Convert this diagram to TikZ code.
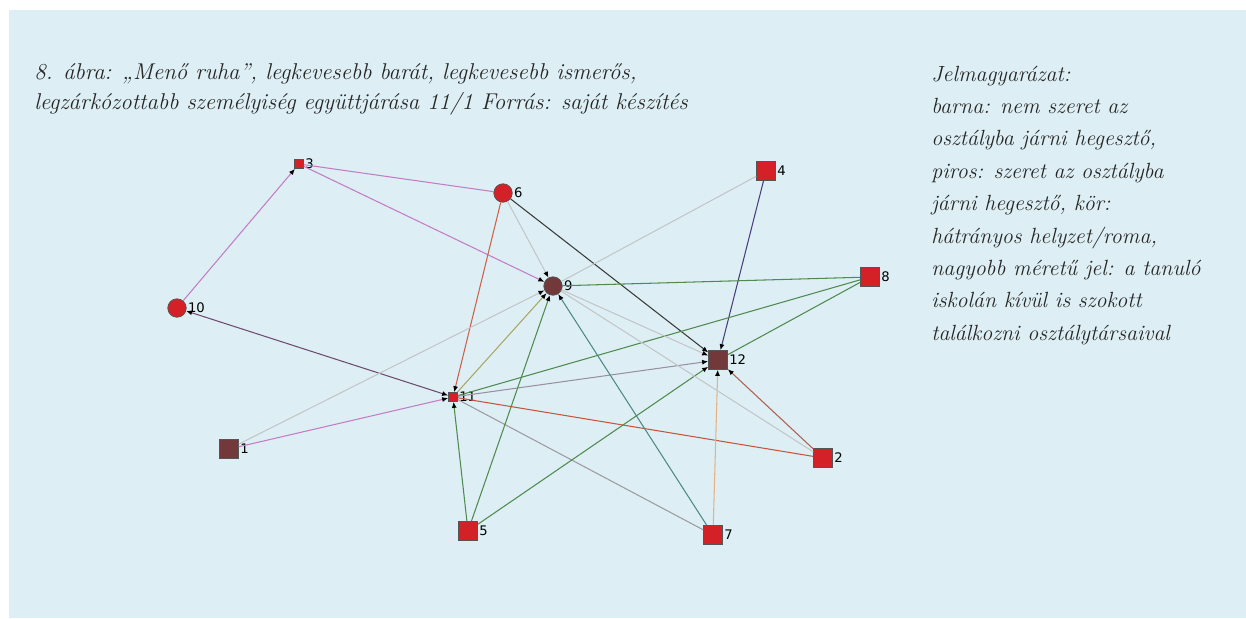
\documentclass[tikz,border=0pt]{standalone}
\usepackage{fontspec}
\newfontfamily\lblfont{DejaVu Sans}
\usetikzlibrary{arrows.meta}
\definecolor{bgblue}{HTML}{DDEFF4}
\definecolor{ink}{HTML}{262626}
\definecolor{nred}{HTML}{D42027}
\definecolor{nbrown}{HTML}{73393A}
\definecolor{nline}{HTML}{555555}
\definecolor{epurple}{HTML}{C47CC4}
\definecolor{edpurple}{HTML}{6E4C70}
\definecolor{ered}{HTML}{D0604A}
\definecolor{eorange}{HTML}{C8553A}
\definecolor{elgray}{HTML}{C2C6C8}
\definecolor{egray}{HTML}{9C9CA0}
\definecolor{edark}{HTML}{3A3A3A}
\definecolor{eblue}{HTML}{4A3E7E}
\definecolor{egreen}{HTML}{4F8A4F}
\definecolor{eolive}{HTML}{A8A864}
\definecolor{egpurple}{HTML}{9A8FA2}
\definecolor{eteal}{HTML}{4E8A82}
\definecolor{etan}{HTML}{E2B284}
\definecolor{ebrown}{HTML}{B06052}
\tikzset{
  bigsq/.style={rectangle,draw=nline,line width=0.4pt,minimum size=3.8mm,inner sep=0pt},
  redsq/.style={bigsq,fill=nred},
  brownsq/.style={bigsq,fill=nbrown},
  smallsq/.style={bigsq,fill=nred,minimum size=1.8mm},
  redci/.style={circle,draw=nline,line width=0.4pt,fill=nred,minimum size=3.7mm,inner sep=0pt},
  brownci/.style={redci,fill=nbrown},
  lbl/.style={font=\lblfont\fontsize{7.5}{8}\selectfont,text=black,inner sep=0.6pt},
  ed/.style={line width=0.6pt},
  ar/.style={ed,-{Latex[length=1.2mm,width=1mm,color=black]}},
  arr/.style={ed,{Latex[length=1.2mm,width=1mm,color=black]}-{Latex[length=1.2mm,width=1mm,color=black]}},
  capt/.style={font=\itshape\fontsize{13}{17}\selectfont,text=ink,align=left,inner sep=0pt},
  legend/.style={font=\itshape\fontsize{12.5}{18.4}\selectfont,text=ink,align=left,inner sep=0pt},
  every label/.style={lbl},
}

\begin{document}
\begin{tikzpicture}[x=0.2mm,y=-0.2mm]
\useasboundingbox (0,0) rectangle (1246,618);
\fill[white] (0,0) rectangle (1246,618);
\fill[bgblue] (9,10) rectangle (1246,618);
% texts (base = last line)
\node[capt,anchor=base west] (title) at (34,109)
  {8. ábra: „Menő ruha”, legkevesebb barát, legkevesebb ismerős,\\
   legzárkózottabb személyiség együttjárása 11/1 Forrás: saját készítés};
\node[legend,anchor=base west] (leg) at (931,340)
  {Jelmagyarázat:\\ barna: nem szeret az\\ osztályba járni hegesztő,\\
   piros: szeret az osztályba\\ járni hegesztő, kör:\\ hátrányos helyzet/roma,\\
   nagyobb méretű jel: a tanuló\\ iskolán kívül is szokott\\ találkozni osztálytársaival};
% students
\node[brownsq,label=0:1] (n1) at (229,449){};
\node[redsq,label=0:2] (n2) at (823,458){};
\node[smallsq,label=0:3] (n3) at (299,164){};
\node[redsq,label=0:4] (n4) at (766,171){};
\node[redsq,label=0:5] (n5) at (468,531){};
\node[redci,label=0:6] (n6) at (503,193){};
\node[redsq,label=0:7] (n7) at (713,535){};
\node[redsq,label=0:8] (n8) at (870,277){};
\node[brownci,label=0:9] (n9) at (553,286){};
\node[redci,label=0:10] (n10) at (177,308){};
\node[smallsq,label=0:11] (n11) at (453,397){};
\node[brownsq,label=0:12] (n12) at (718,360){};
% ties
\draw[ar,epurple](n10)--(n3);\draw[ed,epurple](n3)--(n6);\draw[ar,epurple](n3)--(n9);
\draw[ar,epurple](n1)--(n11);\draw[arr,edpurple](n10)--(n11);
\draw[ar,ered](n6)--(n11);\draw[ar,elgray](n6)--(n9);\draw[ar,edark](n6)--(n12);
\draw[ed,elgray](n4)--(n9);\draw[ar,eblue](n4)--(n12);\draw[ar,elgray](n1)--(n9);
\draw[ed,egreen](n8)--(n9);\draw[ed,egreen](n8)--(n11);\draw[ed,egreen](n8)--(n12);
\draw[ar,eolive](n11)--(n9);\draw[ar,egpurple](n11)--(n12);
\draw[ed,eorange](n11)--(n2);\draw[ed,egray](n11)--(n7);
\draw[ar,egreen](n5)--(n11);\draw[ar,egreen](n5)--(n9);\draw[ar,egreen](n5)--(n12);
\draw[ar,eteal](n7)--(n9);\draw[ar,etan](n7)--(n12);
\draw[ar,elgray](n9)--(n12);\draw[ed,elgray](n9)--(n2);\draw[ar,ebrown](n2)--(n12);
\end{tikzpicture}
\end{document}
